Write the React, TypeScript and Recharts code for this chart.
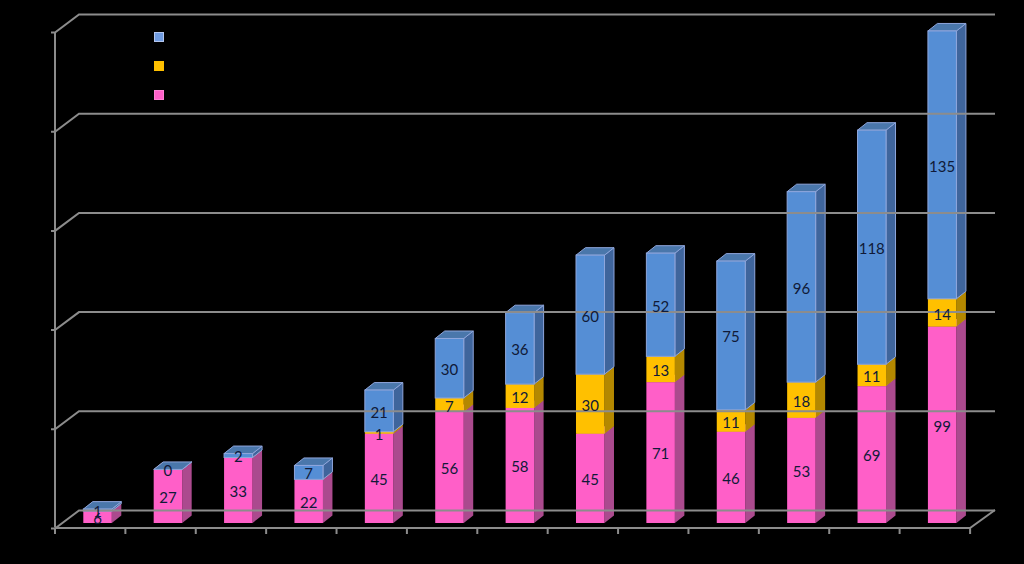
import React from "react";
import { BarChart, Bar, XAxis, YAxis, LabelList, Legend } from "recharts";

const categories = ["1", "2", "3", "4", "5", "6", "7", "8", "9", "10", "11", "12", "13"];
const pinkValues = [6, 27, 33, 22, 45, 56, 58, 45, 71, 46, 53, 69, 99];
const yellowValues = [null, null, null, null, 1, 7, 12, 30, 13, 11, 18, 11, 14];
const blueValues = [1, 0, 2, 7, 21, 30, 36, 60, 52, 75, 96, 118, 135];
const yTicks = [0, 50, 100, 150, 200, 250];

const data = categories.map((c, i) => ({
  c,
  pink: pinkValues[i],
  yellow: yellowValues[i],
  blue: blueValues[i],
}));

const LINE = "#8c8c8c";
const DX = 9.5;
const DY = 7.5;
const LABEL = "#101a38";

const makeShape = (front: string, side: string, top: string, edge?: string) => (p: any) => {
  const { x, y, width: w, height: h } = p;
  if (x == null || y == null) return <g />;
  const s = edge ? { stroke: edge, strokeWidth: 1 } : {};
  return (
    <g>
      <polygon points={`${x + w},${y} ${x + w + DX},${y - DY} ${x + w + DX},${y + h - DY} ${x + w},${y + h}`} fill={side} {...s} />
      <polygon points={`${x},${y} ${x + w},${y} ${x + w + DX},${y - DY} ${x + DX},${y - DY}`} fill={top} {...s} />
      <rect x={x} y={y} width={w} height={h} fill={front} {...s} />
    </g>
  );
};

const YTick = (p: any) => {
  const { y, payload } = p;
  const v = payload.value;
  const back = y - 12.5;
  const front = y + 5.5;
  return (
    <g stroke={LINE} strokeWidth={2} fill="none">
      <path d={`M51 ${front}H55L79 ${back}H995`} />
      {v === 250 && <line x1={55} y1={front} x2={55} y2={front + 495} />}
    </g>
  );
};

const XTick = (p: any) => {
  const { x, index } = p;
  const left = x - 42.5;
  return (
    <g stroke={LINE} strokeWidth={2} fill="none">
      <line x1={left} y1={528} x2={left} y2={534} />
      {index === categories.length - 1 && <path d={`M${x + 28} 534V528L995 510M55 528H${x + 28}`} />}
    </g>
  );
};

const legendItems = [
  { color: "#6f9be0", border: "#b4c6ee" },
  { color: "#ffc000", border: "#ffc000" },
  { color: "#ff5fc8", border: "#ff7fd4" },
];

const LegendContent = () => (
  <div>
    {legendItems.map((it, i) => (
      <div
        key={i}
        style={{
          width: 8,
          height: 8,
          background: it.color,
          border: `1px solid ${it.border}`,
          marginBottom: 19,
        }}
      />
    ))}
  </div>
);

const labelProps = { position: "center" as const, fill: LABEL, fontFamily: "Lato", fontSize: 15, dy: 1.5 };

export default function App() {
  return (
    <div style={{ position: "absolute", left: 0, top: 0, width: 1024, height: 564, background: "#000", overflow: "hidden" }}>
      <BarChart
        width={1024}
        height={564}
        data={data}
        barSize={28.5}
        margin={{ top: 27, right: 46.7, bottom: 40, left: 61.3 }}
      >
        <XAxis dataKey="c" height={1} axisLine={false} tickLine={false} interval={0} tick={<XTick />} />
        <YAxis width={1} domain={[0, 250]} ticks={yTicks} axisLine={false} tickLine={false} tick={<YTick />} />
        <Legend
          content={<LegendContent />}
          layout="vertical"
          align="center"
          verticalAlign="middle"
          wrapperStyle={{ position: "absolute", left: 153.5, top: 31.5, width: 12, height: 80 }}
        />
        <Bar dataKey="pink" stackId="a" isAnimationActive={false} shape={makeShape("#ff5fc8", "#ab4a8e", "#ff8ad6")}>
          <LabelList dataKey="pink" {...labelProps} />
        </Bar>
        <Bar dataKey="yellow" stackId="a" isAnimationActive={false} shape={makeShape("#ffc000", "#b48800", "#ffd24d")}>
          <LabelList dataKey="yellow" {...labelProps} />
        </Bar>
        <Bar dataKey="blue" stackId="a" isAnimationActive={false} shape={makeShape("#558ed5", "#3f659c", "#4a77ab", "#8fa6dc")}>
          <LabelList dataKey="blue" {...labelProps} />
        </Bar>
      </BarChart>
    </div>
  );
}
